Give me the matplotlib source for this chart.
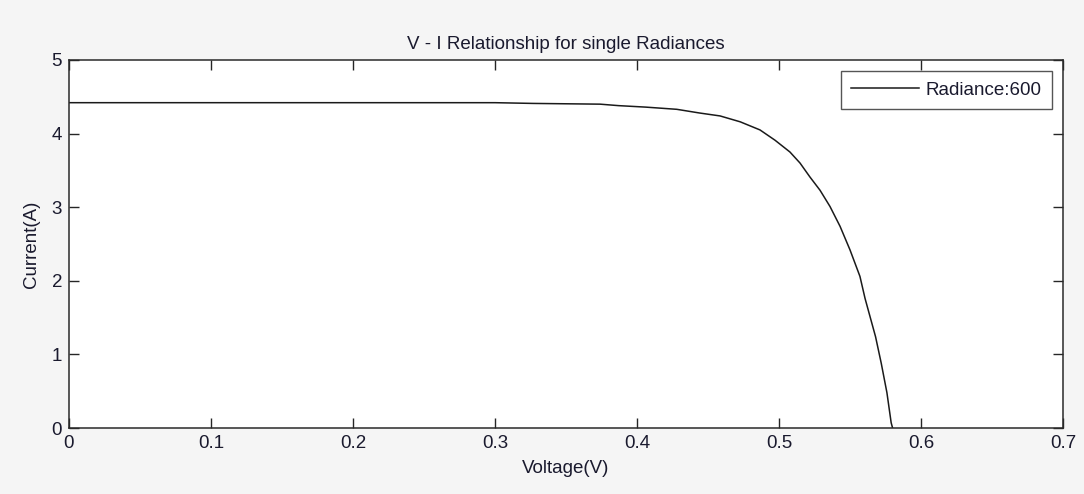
import matplotlib
matplotlib.use("Agg")
import matplotlib.pyplot as plt

voltage = [0.0, 0.1, 0.2, 0.3, 0.327, 0.374, 0.387, 0.406, 0.428, 0.444, 0.4585,
           0.4727, 0.4866, 0.4972, 0.5077, 0.5148, 0.5218, 0.5289, 0.5359, 0.5430,
           0.5500, 0.5570, 0.5606, 0.568, 0.572, 0.576, 0.579, 0.580]
current = [4.42, 4.42, 4.42, 4.42, 4.41, 4.40, 4.38, 4.36, 4.33, 4.28, 4.24,
           4.16, 4.05, 3.91, 3.75, 3.60, 3.41, 3.23, 3.01, 2.74,
           2.42, 2.06, 1.76, 1.24, 0.88, 0.48, 0.07, 0.0]
series_label = "Radiance:600"
title = "V - I Relationship for single Radiances"
xlabel = "Voltage(V)"
ylabel = "Current(A)"
xticks = [0, 0.1, 0.2, 0.3, 0.4, 0.5, 0.6, 0.7]
xticklabels = ["0", "0.1", "0.2", "0.3", "0.4", "0.5", "0.6", "0.7"]
yticks = [0, 1, 2, 3, 4, 5]

plt.rcParams['font.family'] = ['Liberation Sans', 'DejaVu Sans']
FS = 13.5
TC = '#1a1a2e'

fig = plt.figure(figsize=(10.84, 4.94), dpi=100, facecolor='#f5f5f5')
ax = fig.add_axes([69/1084, 66/494, 994/1084, 368/494])
ax.set_facecolor('white')

ax.plot(voltage, current, color='#1a1a1a', lw=1.1, label=series_label)
ax.set_xlim(0, 0.7)
ax.set_ylim(0, 5)
ax.set_xticks(xticks)
ax.set_xticklabels(xticklabels)
ax.set_yticks(yticks)
ax.tick_params(direction='in', length=7.5, width=1.0, top=True, right=True,
               labelsize=FS, colors='#262626', labelcolor=TC, pad=5)
for s in ax.spines.values():
    s.set_color('#2a2a2a')
    s.set_linewidth(1.1)

ax.set_title(title, fontsize=FS, color=TC, pad=8)
ax.set_xlabel(xlabel, fontsize=FS, color=TC, labelpad=6)
ax.set_ylabel(ylabel, fontsize=FS, color=TC, labelpad=8)

leg = ax.legend(loc='upper right', fontsize=FS, frameon=True, fancybox=False,
                edgecolor='#2a2a2a', borderaxespad=0.6, handlelength=3.6,
                handletextpad=0.35, borderpad=0.55)
leg.get_frame().set_linewidth(1.0)
for t in leg.get_texts():
    t.set_color(TC)

fig.savefig("out.png", dpi=100, facecolor=fig.get_facecolor())
